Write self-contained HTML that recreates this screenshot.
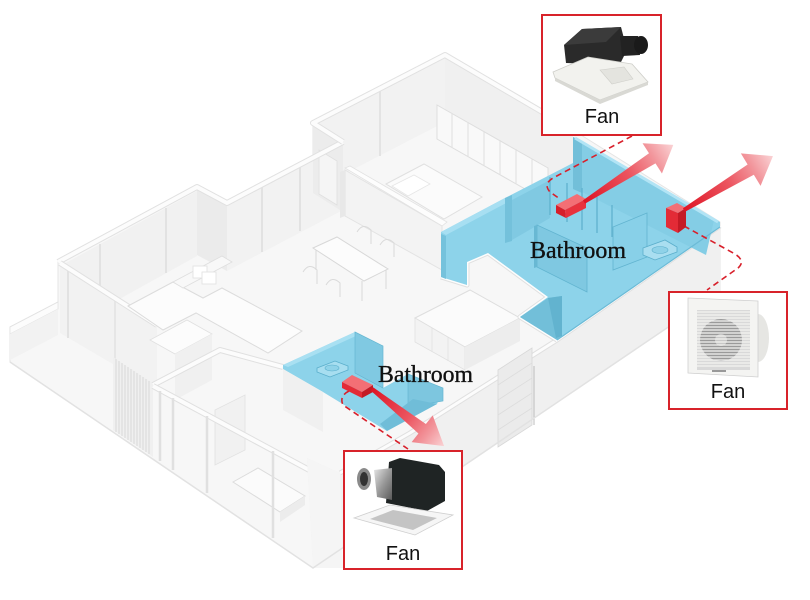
<!DOCTYPE html>
<html><head><meta charset="utf-8"><style>
html,body{margin:0;padding:0;background:#fff;}
svg{display:block}
</style></head><body>
<svg width="810" height="600" viewBox="0 0 810 600" xmlns="http://www.w3.org/2000/svg">
<defs>
 <linearGradient id="ar" x1="0" y1="0" x2="1" y2="0">
   <stop offset="0" stop-color="#de1424"/>
   <stop offset="0.5" stop-color="#ec5560"/>
   <stop offset="0.78" stop-color="#f2969c"/>
   <stop offset="1" stop-color="#fad3d5"/>
 </linearGradient>
 <linearGradient id="duct" x1="0" y1="0" x2="1" y2="1">
   <stop offset="0" stop-color="#e6e6e6"/>
   <stop offset="0.5" stop-color="#9a9a9a"/>
   <stop offset="1" stop-color="#5a5a5a"/>
 </linearGradient>
</defs>
<rect width="810" height="600" fill="#fff"/>

<!-- building base -->
<polygon points="10,327 58,302 58,262 197,187 227,203 313,158 313,123 445,55 573,130 720,222 720,292 313,568 10,362" fill="#f7f7f7" stroke="#e4e4e4" stroke-width="1"/>

<!-- back wall faces -->
<polygon points="62,265 197,191 197,256 62,331" fill="#f1f1f1"/>
<line x1="100" y1="244" x2="100" y2="310" stroke="#e2e2e2" stroke-width="2"/>
<line x1="166" y1="208" x2="166" y2="273" stroke="#e2e2e2" stroke-width="2"/>
<polygon points="197,187 227,203 227,271 197,255" fill="#ebebeb"/>
<polygon points="227,205 343,143 343,210 227,271" fill="#f2f2f2"/>
<line x1="262" y1="186" x2="262" y2="252" stroke="#e2e2e2" stroke-width="2"/>
<line x1="300" y1="166" x2="300" y2="231" stroke="#e2e2e2" stroke-width="2"/>
<polygon points="313,125 445,57 445,122 313,190" fill="#f2f2f2"/>
<line x1="380" y1="91" x2="380" y2="156" stroke="#e3e3e3" stroke-width="2"/>
<polygon points="313,123 343,142 343,212 313,193" fill="#ececec"/>
<polygon points="319,150 337,161 337,205 319,194" fill="#f5f5f5" stroke="#e0e0e0" stroke-width="0.8"/>
<polygon points="445,57 573,131 573,196 445,122" fill="#f0f0f0"/>
<!-- wardrobe -->
<polygon points="437,105 548,168 548,202 437,139" fill="#f9f9f9" stroke="#dedede" stroke-width="1"/>
<g stroke="#e0e0e0" stroke-width="1">
<line x1="452" y1="113" x2="452" y2="148"/><line x1="468" y1="122" x2="468" y2="157"/>
<line x1="484" y1="131" x2="484" y2="166"/><line x1="500" y1="140" x2="500" y2="175"/>
<line x1="516" y1="149" x2="516" y2="184"/><line x1="532" y1="159" x2="532" y2="193"/>
</g>
<!-- bed upper -->
<polygon points="386,184 424,164 482,197 444,219" fill="#fbfbfb" stroke="#e0e0e0" stroke-width="1"/>
<polygon points="392,186 414,175 430,184 408,196" fill="#fff" stroke="#e6e6e6" stroke-width="0.8"/>
<!-- bedroom partition -->
<polygon points="345,168 350,166 447,222 442,226" fill="#fdfdfd" stroke="#e2e2e2" stroke-width="0.8"/>
<polygon points="345,170 442,226 442,270 345,216" fill="#f3f3f3" stroke="#e3e3e3" stroke-width="1"/>
<polygon points="340,172 345,170 345,216 340,218" fill="#e8e8e8"/>

<!-- left wing: W0 glass -->
<polygon points="60,263 157,325 157,390 60,333" fill="#f2f2f2"/>
<line x1="68" y1="268" x2="68" y2="338" stroke="#e2e2e2" stroke-width="2"/>
<line x1="115" y1="298" x2="115" y2="365" stroke="#e3e3e3" stroke-width="1.5"/>
<!-- balcony low wall -->
<polygon points="10,327 58,302 58,309 10,334" fill="#fcfcfc" stroke="#e2e2e2" stroke-width="0.8"/>
<polygon points="10,334 58,309 58,335 10,360" fill="#f2f2f2"/>

<!-- wall top strips -->
<g fill="none" stroke-linejoin="round">
<polyline points="58,262 197,187 227,203 343,142" stroke="#e1e1e1" stroke-width="6"/>
<polyline points="58,262 197,187 227,203 343,142" stroke="#fcfcfc" stroke-width="4"/>
<polyline points="343,142 313,123 445,55 573,130" stroke="#e1e1e1" stroke-width="6"/>
<polyline points="343,142 313,123 445,55 573,130" stroke="#fcfcfc" stroke-width="4"/>
<polyline points="60,263 157,325" stroke="#e1e1e1" stroke-width="6"/>
<polyline points="60,263 157,325" stroke="#fcfcfc" stroke-width="4"/>
</g>

<!-- sofa -->
<polygon points="128,306 173,282 203,298 222,288 302,331 268,353 196,313 163,330" fill="#fcfcfc" stroke="#dcdcdc" stroke-width="1"/>
<polygon points="173,282 222,256 232,262 183,288" fill="#f8f8f8" stroke="#dedede" stroke-width="0.8"/>
<rect x="193" y="266" width="14" height="12" fill="#fff" stroke="#e0e0e0" stroke-width="0.8"/>
<rect x="202" y="272" width="14" height="12" fill="#fff" stroke="#e0e0e0" stroke-width="0.8"/>
<!-- dining -->
<polygon points="313,248 337,237 388,269 364,281" fill="#fcfcfc" stroke="#d8d8d8" stroke-width="1"/>
<g stroke="#d8d8d8" stroke-width="1">
<line x1="316" y1="250" x2="316" y2="270"/><line x1="362" y1="281" x2="362" y2="301"/><line x1="386" y1="270" x2="386" y2="289"/>
</g>
<g fill="none" stroke="#dadada" stroke-width="1">
<path d="M303,272 q6,-10 14,-2 l0,14 M326,285 q6,-10 14,-2 l0,14 M357,232 q6,-10 14,-2 l0,14 M380,245 q6,-10 14,-2 l0,14"/>
</g>

<!-- slat screen -->
<polygon points="113,357 153,383 153,457 113,430" fill="#f0f0f0"/>
<g stroke="#d6d6d6" stroke-width="0.9">
<line x1="116" y1="359" x2="116" y2="432"/><line x1="119" y1="361" x2="119" y2="434"/><line x1="122" y1="363" x2="122" y2="436"/>
<line x1="125" y1="365" x2="125" y2="438"/><line x1="128" y1="367" x2="128" y2="440"/><line x1="131" y1="369" x2="131" y2="442"/>
<line x1="134" y1="371" x2="134" y2="444"/><line x1="137" y1="373" x2="137" y2="446"/><line x1="140" y1="375" x2="140" y2="448"/>
<line x1="143" y1="377" x2="143" y2="450"/><line x1="146" y1="379" x2="146" y2="452"/><line x1="149" y1="381" x2="149" y2="454"/>
</g>
<!-- interior walls middle-left -->
<polygon points="150,340 187,320 212,334 175,354" fill="#fcfcfc" stroke="#e0e0e0" stroke-width="0.8"/>
<polygon points="175,354 212,334 212,380 175,400" fill="#f0f0f0"/>
<g fill="none" stroke-linejoin="round">
<polyline points="153,385 220,350 283,367" stroke="#e0e0e0" stroke-width="6"/>
<polyline points="153,385 220,350 283,367" stroke="#fcfcfc" stroke-width="4"/>
</g>
<polygon points="215,410 245,395 245,450 215,465" fill="#f1f1f1" stroke="#e2e2e2" stroke-width="0.8"/>
<!-- lower-left bed -->
<polygon points="233,482 258,468 305,496 280,512" fill="#fbfbfb" stroke="#dcdcdc" stroke-width="1"/>
<polygon points="280,512 305,496 305,505 280,522" fill="#ececec"/>
<!-- bedroom glass front wall -->
<g fill="none" stroke-linejoin="round">
<polyline points="153,386 313,472" stroke="#e0e0e0" stroke-width="6"/>
<polyline points="153,386 313,472" stroke="#fcfcfc" stroke-width="4"/>
</g>
<g stroke="#e0e0e0" stroke-width="2.5">
<line x1="160" y1="391" x2="160" y2="461"/><line x1="173" y1="398" x2="173" y2="470"/>
<line x1="207" y1="416" x2="207" y2="493"/><line x1="273" y1="451" x2="273" y2="538"/>
</g>

<!-- front-right exterior wall -->
<polygon points="720,226 557,340 410,433 340,473 307,458 313,568 720,292" fill="#f0f0f0"/>
<polygon points="307,458 340,473 343,568 313,568" fill="#f5f5f5"/>
<g fill="none" stroke-linejoin="round">
<polyline points="720,226 557,340 410,433 340,473" stroke="#e0e0e0" stroke-width="5"/>
<polyline points="720,226 557,340 410,433 340,473" stroke="#fcfcfc" stroke-width="3"/>
</g>
<polygon points="498,370 532,348 532,425 498,447" fill="#ebebeb" stroke="#d8d8d8" stroke-width="0.8"/>
<g stroke="#dcdcdc" stroke-width="0.8">
<line x1="498" y1="385" x2="532" y2="363"/><line x1="498" y1="400" x2="532" y2="378"/>
<line x1="498" y1="415" x2="532" y2="393"/><line x1="498" y1="430" x2="532" y2="408"/>
</g>
<line x1="534" y1="366" x2="534" y2="425" stroke="#bcbcbc" stroke-width="1"/>
<polyline points="10,362 313,568 720,292" fill="none" stroke="#e2e2e2" stroke-width="1.5"/>

<!-- kitchen counters -->
<polygon points="415,318 470,290 520,318 465,347" fill="#fbfbfb" stroke="#dedede" stroke-width="1"/>
<polygon points="415,318 465,347 465,370 415,342" fill="#f3f3f3" stroke="#e0e0e0" stroke-width="0.8"/>
<polygon points="465,347 520,318 520,341 465,370" fill="#ededed"/>
<g stroke="#e0e0e0" stroke-width="0.8"><line x1="432" y1="328" x2="432" y2="352"/><line x1="448" y1="337" x2="448" y2="361"/></g>
<g fill="none" stroke-linejoin="round">
<polyline points="441,277 467,285 467,262 488,253 548,297 520,317 557,340" stroke="#e0e0e0" stroke-width="5"/>
<polyline points="441,277 467,285 467,262 488,253 548,297 520,317 557,340" stroke="#fdfdfd" stroke-width="3"/>
</g>

<!-- upper blue bathroom -->
<polygon points="441,232 505,198 573,163 573,137 720,222 720,227 557,340 520,317 548,297 488,253 467,262 467,285 441,277" fill="#8dd3ea"/>
<polygon points="441,232 505,198 510,201 446,235" fill="#a7dff2"/>
<polygon points="441,234 446,236 446,279 441,277" fill="#75c2dc"/>
<polygon points="582,141 714,220 706,255 582,192" fill="#84cde5"/>
<polygon points="573,137 582,141 582,193 573,189" fill="#72bfd9"/>
<polyline points="575,138 718,222" fill="none" stroke="#b2e4f5" stroke-width="3"/>
<polyline points="720,227 557,340" fill="none" stroke="#6bbad6" stroke-width="1.2"/>
<polygon points="505,198 512,195 512,241 505,243" fill="#74c1db"/>
<polygon points="512,200 550,180 550,218 512,240" fill="#80c9e2"/>
<!-- shower panels -->
<g stroke="#5fb1ce" stroke-width="1.3">
<line x1="550" y1="177" x2="550" y2="215"/><line x1="567" y1="183" x2="567" y2="222"/>
<line x1="582" y1="188" x2="582" y2="230"/><line x1="597" y1="197" x2="597" y2="233"/>
<line x1="612" y1="205" x2="612" y2="237"/>
</g>
<!-- partition with label -->
<polygon points="537,225 587,248 587,292 537,267" fill="#7fc8e1" stroke="#62b4d0" stroke-width="0.8"/>
<polygon points="534,226 537,225 537,267 534,268" fill="#68b8d3"/>
<!-- sink partition -->
<polygon points="613,227 647,213 647,257 613,270" fill="#88d0e8" stroke="#62b4d0" stroke-width="0.8"/>
<polygon points="643,248 665,240 677,247 677,252 655,260 643,255" fill="#a9def0" stroke="#5aaecb" stroke-width="0.8"/>
<ellipse cx="660" cy="250" rx="8" ry="3.5" fill="#8fd2e8" stroke="#5aaecb" stroke-width="0.6"/>
<!-- small room -->
<polygon points="520,317 548,298 562,296 562,336 557,340" fill="#72bfd9"/>
<polygon points="548,298 562,296 562,336 556,338" fill="#62b3cf"/>

<!-- lower blue bathroom -->
<polygon points="283,365 355,332 383,346 383,388 408,374 443,388 437,404 387,431 323,392 283,369" fill="#8dd3ea"/>
<polygon points="283,365 355,332 358,335 288,367" fill="#a9e0f2"/>
<polygon points="355,332 383,346 383,388 355,373" fill="#80c9e2" stroke="#66b7d2" stroke-width="0.7"/>
<polygon points="408,374 443,388 443,401 408,407" fill="#7dc6df" stroke="#66b7d2" stroke-width="0.7"/>
<polygon points="413,399 437,404 387,431 380,424" fill="#70bdd8"/>
<polygon points="283,369 323,392 323,432 283,410" fill="#f0f0f0"/>
<polygon points="317,368 335,361 348,366 348,370 330,377 317,372" fill="#a7def0" stroke="#5aaecb" stroke-width="0.8"/>
<ellipse cx="332" cy="368" rx="7" ry="3" fill="#90d3e9" stroke="#5aaecb" stroke-width="0.6"/>

<!-- dashed connectors -->
<g fill="none" stroke="#d8202b" stroke-width="1.6" stroke-dasharray="6,4">
<path d="M632,136 L553,178 Q543,184 550,192 L560,199"/>
<path d="M684,226 L735,254 Q746,261 738,268 L707,290"/>
<path d="M349,391 Q339,396 343,405 L408,449"/>
</g>

<!-- red fan boxes -->
<polygon points="556,205 577,194 586,199 565,210" fill="#f36f75"/>
<polygon points="556,205 565,210 566,218 556,213" fill="#d61f2b"/>
<polygon points="565,210 586,199 586,208 566,218" fill="#e8323d"/>
<polygon points="666,208 677,203 686,208 678,213" fill="#f36f75"/>
<polygon points="666,208 678,213 678,233 666,227" fill="#e32b36"/>
<polygon points="678,213 686,208 686,227 678,233" fill="#c41a25"/>
<polygon points="342,382 352,375 373,385 362,392" fill="#f36f75"/>
<polygon points="342,382 362,392 362,398 342,388" fill="#e32b36"/>
<polygon points="362,392 373,385 373,392 362,398" fill="#c41a25"/>

<!-- arrows -->
<g transform="translate(584,202) rotate(-32.6)">
<polygon points="0,-2 81,-6 81,-18 106,0 81,18 81,6 0,2" fill="url(#ar)"/>
</g>
<g transform="translate(684,210) rotate(-31.2)">
<polygon points="0,-2 78,-6 78,-19 104,0 78,19 78,6 0,2" fill="url(#ar)"/>
</g>
<g transform="translate(372,389) rotate(38.4)">
<polygon points="0,-2 64,-6 64,-17 92,0 64,17 64,6 0,2" fill="url(#ar)"/>
</g>

<!-- labels -->
<text x="530" y="258" font-family="Liberation Serif, serif" font-size="24" fill="#111" stroke="#111" stroke-width="0.35" textLength="96" lengthAdjust="spacingAndGlyphs">Bathroom</text>
<text x="378" y="382" font-family="Liberation Serif, serif" font-size="24" fill="#111" stroke="#111" stroke-width="0.35" textLength="95" lengthAdjust="spacingAndGlyphs">Bathroom</text>

<!-- Fan box 1 -->
<rect x="542" y="15" width="119" height="120" fill="#fff" stroke="#d8232a" stroke-width="2"/>
<polygon points="564,45 582,29 621,27 627,50 621,62 595,64 566,63" fill="#2a2a2a"/>
<polygon points="564,45 582,29 621,27 606,42" fill="#3b3b3b"/>
<polygon points="620,36 638,36 640,55 622,56" fill="#222"/>
<ellipse cx="641" cy="45" rx="7" ry="9" fill="#1a1a1a"/>
<polygon points="553,72 588,57 632,64 648,82 600,100 555,78" fill="#f2f2ee" stroke="#cfcfca" stroke-width="0.8"/>
<polygon points="555,78 600,100 648,82 648,85 600,104 555,81" fill="#d9d9d4"/>
<polygon points="600,70 624,67 633,79 612,84" fill="#e4e4df" stroke="#cfcfca" stroke-width="0.6"/>
<text x="602" y="123" font-family="Liberation Sans, sans-serif" font-size="20" fill="#111" text-anchor="middle">Fan</text>

<!-- Fan box 2 -->
<rect x="669" y="292" width="118" height="117" fill="#fff" stroke="#d8232a" stroke-width="2"/>
<ellipse cx="758" cy="338" rx="11" ry="24" fill="#e6e6e3"/>
<polygon points="688,298 758,301 758,377 688,373" fill="#f4f4f2" stroke="#cfcfcf" stroke-width="0.8"/>
<rect x="697" y="310" width="53" height="60" fill="#d9d9d9"/>
<circle cx="721" cy="340" r="21" fill="#9a9a9a"/>
<circle cx="721" cy="340" r="6" fill="#c8c8c8"/>
<g stroke="#f4f4f2" stroke-width="1.2">
<line x1="697" y1="312" x2="750" y2="312"/><line x1="697" y1="315" x2="750" y2="315"/><line x1="697" y1="318" x2="750" y2="318"/>
<line x1="697" y1="321" x2="750" y2="321"/><line x1="697" y1="324" x2="750" y2="324"/><line x1="697" y1="327" x2="750" y2="327"/>
<line x1="697" y1="330" x2="750" y2="330"/><line x1="697" y1="333" x2="750" y2="333"/><line x1="697" y1="336" x2="750" y2="336"/>
<line x1="697" y1="339" x2="750" y2="339"/><line x1="697" y1="342" x2="750" y2="342"/><line x1="697" y1="345" x2="750" y2="345"/>
<line x1="697" y1="348" x2="750" y2="348"/><line x1="697" y1="351" x2="750" y2="351"/><line x1="697" y1="354" x2="750" y2="354"/>
<line x1="697" y1="357" x2="750" y2="357"/><line x1="697" y1="360" x2="750" y2="360"/><line x1="697" y1="363" x2="750" y2="363"/>
<line x1="697" y1="366" x2="750" y2="366"/>
</g>
<rect x="712" y="370" width="14" height="2" fill="#999"/>
<text x="728" y="398" font-family="Liberation Sans, sans-serif" font-size="20" fill="#111" text-anchor="middle">Fan</text>

<!-- Fan box 3 -->
<rect x="344" y="451" width="118" height="118" fill="#fff" stroke="#d8232a" stroke-width="2"/>
<polygon points="389,462 400,458 439,465 445,472 445,501 427,511 386,503" fill="#1f2424"/>
<polygon points="374,470 392,468 392,500 377,497" fill="url(#duct)"/>
<ellipse cx="364" cy="479" rx="7" ry="11" fill="#8a8a8a"/>
<ellipse cx="364" cy="479" rx="4" ry="7" fill="#333"/>
<polygon points="354,518 390,505 453,515 415,535" fill="#f6f6f6" stroke="#cfcfcf" stroke-width="0.8"/>
<polygon points="370,519 393,510 437,518 413,530" fill="#c4c4c4"/>
<text x="403" y="560" font-family="Liberation Sans, sans-serif" font-size="20" fill="#111" text-anchor="middle">Fan</text>
</svg>
</body></html>
